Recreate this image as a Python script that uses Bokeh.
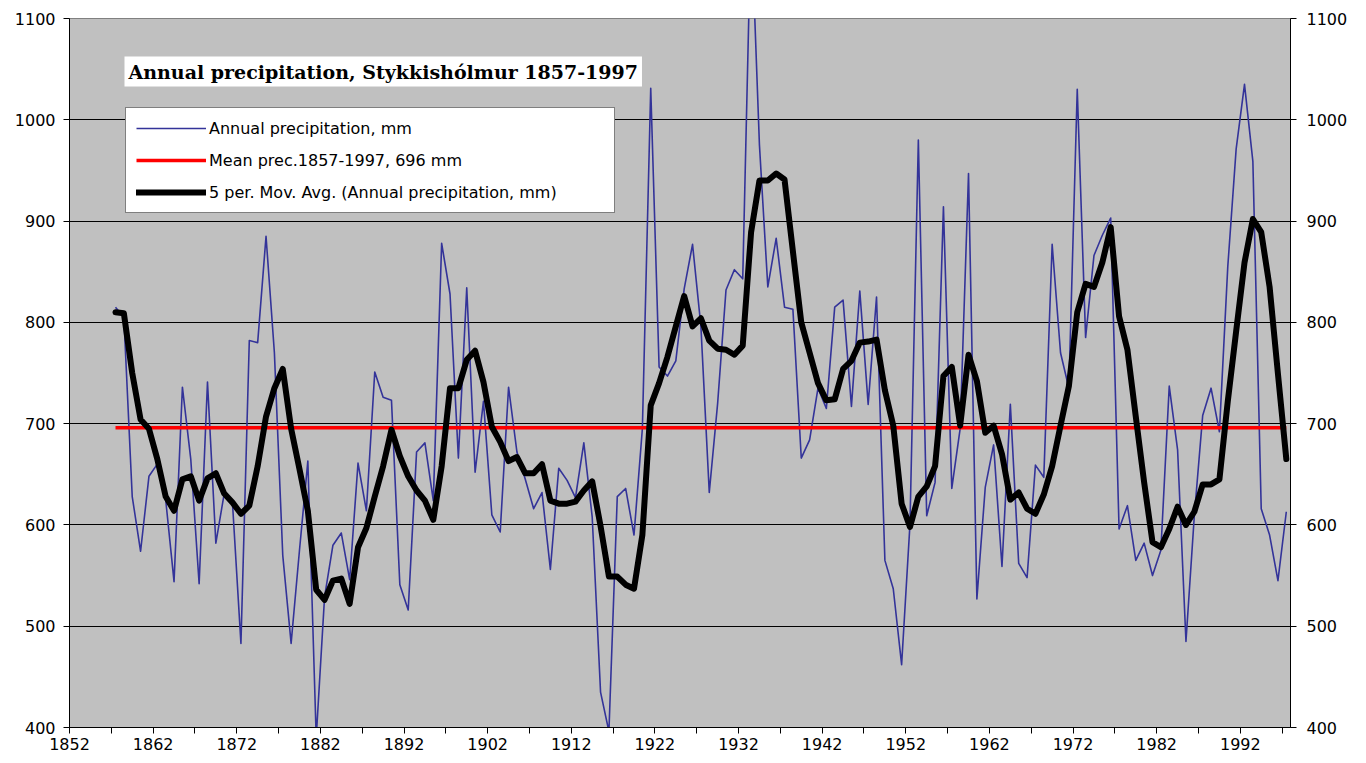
from bokeh.plotting import figure
from bokeh.models import (Range1d, LinearAxis, FixedTicker, Legend, LegendItem, Label)
from bokeh.embed import file_html
from bokeh.resources import INLINE

# ---------------- data ----------------
years = list(range(1857, 1998))

annual_precip = [
    815, 805, 628, 574, 648, 660, 625, 544, 736, 665,
    542, 741, 582, 631, 620, 483, 782, 780, 885, 770,
    570, 483, 575, 663, 390, 529, 580, 592, 546, 661,
    614, 751, 726, 723, 541, 516, 672, 681, 624, 878,
    828, 666, 834, 652, 722, 610, 593, 736, 672, 645,
    616, 632, 556, 656, 644, 627, 681, 608, 435, 396,
    628, 636, 590, 695, 1031, 756, 747, 762, 833, 877,
    796, 632, 720, 832, 852, 843, 1200, 975, 835, 883,
    815, 813, 666, 684, 735, 715, 815, 822, 717, 831,
    719, 825, 565, 537, 462, 601, 980, 609, 642, 914,
    636, 695, 947, 527, 637, 679, 559, 719, 562, 548,
    659, 647, 877, 770, 735, 1030, 785, 866, 886, 903,
    596, 619, 565, 582, 550, 575, 737, 674, 485, 609,
    708, 735, 692, 855, 971, 1035, 959, 616, 590, 545,
    613,
]

moving_avg_5 = [
    810, 809, 750, 704, 695, 665, 628, 614, 645, 648,
    624, 646, 651, 631, 622, 611, 619, 658, 707, 735,
    754, 695, 655, 614, 536, 526, 545, 547, 522, 578,
    597, 628, 658, 694, 668, 648, 634, 624, 605, 658,
    735, 735, 763, 772, 741, 697, 682, 663, 667, 651,
    651, 660, 624, 621, 621, 623, 634, 643, 599, 549,
    549, 541, 537, 590, 718, 740, 766, 796, 826, 796,
    804, 782, 774, 773, 768, 777, 889, 940, 940, 947,
    941, 870, 800, 770, 740, 723, 724, 754, 762, 780,
    781, 783, 733, 698, 621, 598, 628, 638, 658, 747,
    756, 698, 768, 742, 691, 698, 670, 625, 632, 616,
    611, 630, 658, 698, 737, 810, 838, 835, 859, 894,
    806, 773, 707, 642, 583, 578, 596, 618, 600, 613,
    640, 640, 645, 722, 791, 859, 902, 889, 835, 749,
    665,
]

mean_precip = 696

x_tick_labels = [1852, 1862, 1872, 1882, 1892, 1902, 1912, 1922, 1932, 1942,
                 1952, 1962, 1972, 1982, 1992]
x_minor_ticks = [1857, 1867, 1877, 1887, 1897, 1907, 1917, 1927, 1937, 1947,
                 1957, 1967, 1977, 1987, 1997]
y_ticks = [400, 500, 600, 700, 800, 900, 1000, 1100]

title_text = "Annual precipitation, Stykkishólmur 1857-1997"
label_annual = "Annual precipitation, mm"
label_mean = "Mean prec.1857-1997, 696 mm"
label_mavg = "5 per. Mov. Avg. (Annual precipitation, mm)"

# categories are drawn at the centre of each year slot
x_pos = [y + 0.5 for y in years]
mean_series = [mean_precip for _ in years]

# ---------------- figure ----------------
p = figure(width=1358, height=755,
           x_range=Range1d(1852, 1998), y_range=Range1d(400, 1100),
           output_backend="svg", toolbar_location=None,
           min_border_left=69, min_border_right=68,
           min_border_top=18, min_border_bottom=28)

p.background_fill_color = "#C0C0C0"
p.border_fill_color = "white"
p.outline_line_color = "#808080"
p.outline_line_width = 1

p.xgrid.visible = False
p.ygrid.ticker = FixedTicker(ticks=y_ticks)
p.ygrid.grid_line_color = "black"
p.ygrid.grid_line_width = 1

TICK_FONT = "DejaVu Sans"

xa = p.xaxis[0]
xa.ticker = FixedTicker(ticks=x_tick_labels, minor_ticks=x_minor_ticks)
xa.axis_line_color = "black"
xa.major_tick_line_color = "black"
xa.minor_tick_line_color = "black"
xa.major_tick_out = 6
xa.major_tick_in = 0
xa.minor_tick_out = 6
xa.minor_tick_in = 0
xa.major_label_standoff = 4
xa.major_label_text_font = TICK_FONT
xa.major_label_text_font_size = "16px"
xa.major_label_text_color = "black"

ya = p.yaxis[0]
ya.ticker = FixedTicker(ticks=y_ticks)
ya.axis_line_color = "black"
ya.major_tick_out = 6
ya.major_tick_in = 0
ya.minor_tick_line_color = None
ya.major_label_standoff = 8
ya.major_label_text_font = TICK_FONT
ya.major_label_text_font_size = "16px"
ya.major_label_text_color = "black"

ra = LinearAxis(ticker=FixedTicker(ticks=y_ticks))
ra.axis_line_color = "black"
ra.major_tick_out = 6
ra.major_tick_in = 0
ra.minor_tick_line_color = None
ra.major_label_standoff = 10
ra.major_label_text_font = TICK_FONT
ra.major_label_text_font_size = "16px"
ra.major_label_text_color = "black"
p.add_layout(ra, "right")

# ---------------- series ----------------
r_blue = p.line(x_pos, annual_precip, line_color="#333399", line_width=1.6,
                line_join="round")
r_red = p.line(x_pos, mean_series, line_color="#FF0000", line_width=3.5)
r_black = p.line(x_pos, moving_avg_5, line_color="black", line_width=6,
                 line_join="round", line_cap="round")

# ---------------- legend ----------------
legend = Legend(items=[
    LegendItem(label=label_annual, renderers=[r_blue]),
    LegendItem(label=label_mean, renderers=[r_red]),
    LegendItem(label=label_mavg, renderers=[r_black]),
], location=(56, 514))
legend.background_fill_color = "white"
legend.background_fill_alpha = 1
legend.border_line_color = "black"
legend.border_line_width = 1
legend.padding = 10
legend.spacing = 12
legend.margin = 0
legend.glyph_width = 70
legend.glyph_height = 20
legend.label_height = 20
legend.label_width = 395
legend.label_standoff = 3
legend.label_text_font = "DejaVu Sans"
legend.label_text_font_size = "16px"
legend.label_text_color = "black"
p.add_layout(legend)

# ---------------- title box ----------------
title = Label(x=55, y=656, x_units="screen", y_units="screen",
              text=title_text, text_font="DejaVu Serif",
              text_font_style="bold", text_font_size="19px",
              text_color="black", text_align="left", text_baseline="middle",
              background_fill_color="white", background_fill_alpha=1,
              padding=4)
p.add_layout(title)

open("out.html", "w").write(file_html(p, INLINE))
